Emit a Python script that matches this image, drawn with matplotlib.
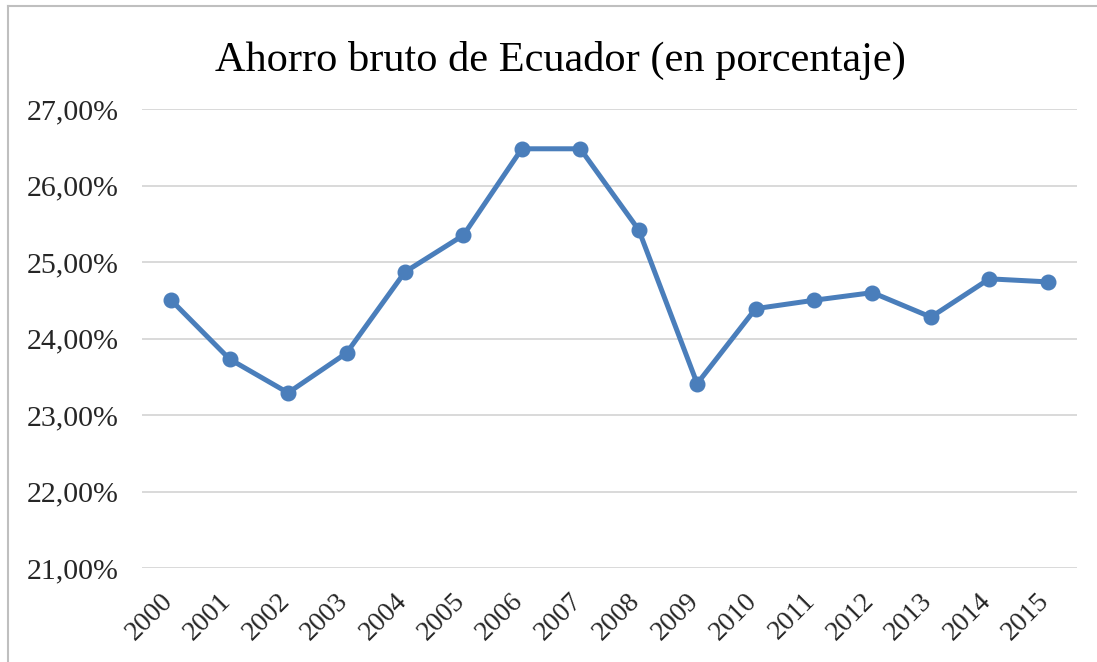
import matplotlib
matplotlib.use("Agg")
import matplotlib.pyplot as plt
from matplotlib.lines import Line2D
from matplotlib.transforms import ScaledTranslation

years = ["2000", "2001", "2002", "2003", "2004", "2005", "2006", "2007",
         "2008", "2009", "2010", "2011", "2012", "2013", "2014", "2015"]
ahorro = [24.50, 23.73, 23.29, 23.81, 24.87, 25.35, 26.48, 26.48,
          25.42, 23.41, 24.39, 24.50, 24.60, 24.28, 24.78, 24.74]
y_ticks = [21, 22, 23, 24, 25, 26, 27]
title = "Ahorro bruto de Ecuador (en porcentaje)"

plt.rcParams['font.family'] = ['Liberation Serif', 'DejaVu Serif']

fig = plt.figure(figsize=(10.97, 6.62), dpi=100)
W, H = 1097, 662
ax = fig.add_axes([142 / W, 1 - 568 / H, (1077 - 142) / W, (568 - 109) / H])

x = list(range(len(years)))
ax.plot(x, ahorro, color='#4A7EBB', linewidth=3.6, marker='o', markersize=10.5,
        solid_joinstyle='round', zorder=3)

ax.set_xlim(-0.5, len(years) - 0.5)
ax.set_ylim(y_ticks[0], y_ticks[-1])
ax.set_yticks(y_ticks)
ax.set_yticklabels([f"{v:.2f}%".replace('.', ',') for v in y_ticks], fontsize=21.5, color='#262626')
ax.set_xticks(x)
ax.set_xticklabels(years, rotation=45, ha='right', rotation_mode='anchor', fontsize=20, color='#262626')
ax.tick_params(axis='y', length=0, pad=17)
ax.tick_params(axis='x', length=0, pad=6)
off = ScaledTranslation(-11 / 100, -12 / 100, fig.dpi_scale_trans)
for lab in ax.get_xticklabels():
    lab.set_transform(lab.get_transform() + off)
ax.grid(axis='y', color='#D9D9D9', linewidth=1.4)
ax.set_axisbelow(True)
for s in ax.spines.values():
    s.set_visible(False)

fig.text(560 / W, 1 - 60 / H, title, ha='center', va='center', fontsize=30.5, color='#000000')

fig.lines.append(Line2D([8 / W, 8 / W], [0, 1 - 6 / H], transform=fig.transFigure,
                        color='#BFBFBF', linewidth=1.5))
fig.lines.append(Line2D([8 / W, 1], [1 - 6 / H, 1 - 6 / H], transform=fig.transFigure,
                        color='#BFBFBF', linewidth=1.5))

fig.savefig("out.png", dpi=100)
